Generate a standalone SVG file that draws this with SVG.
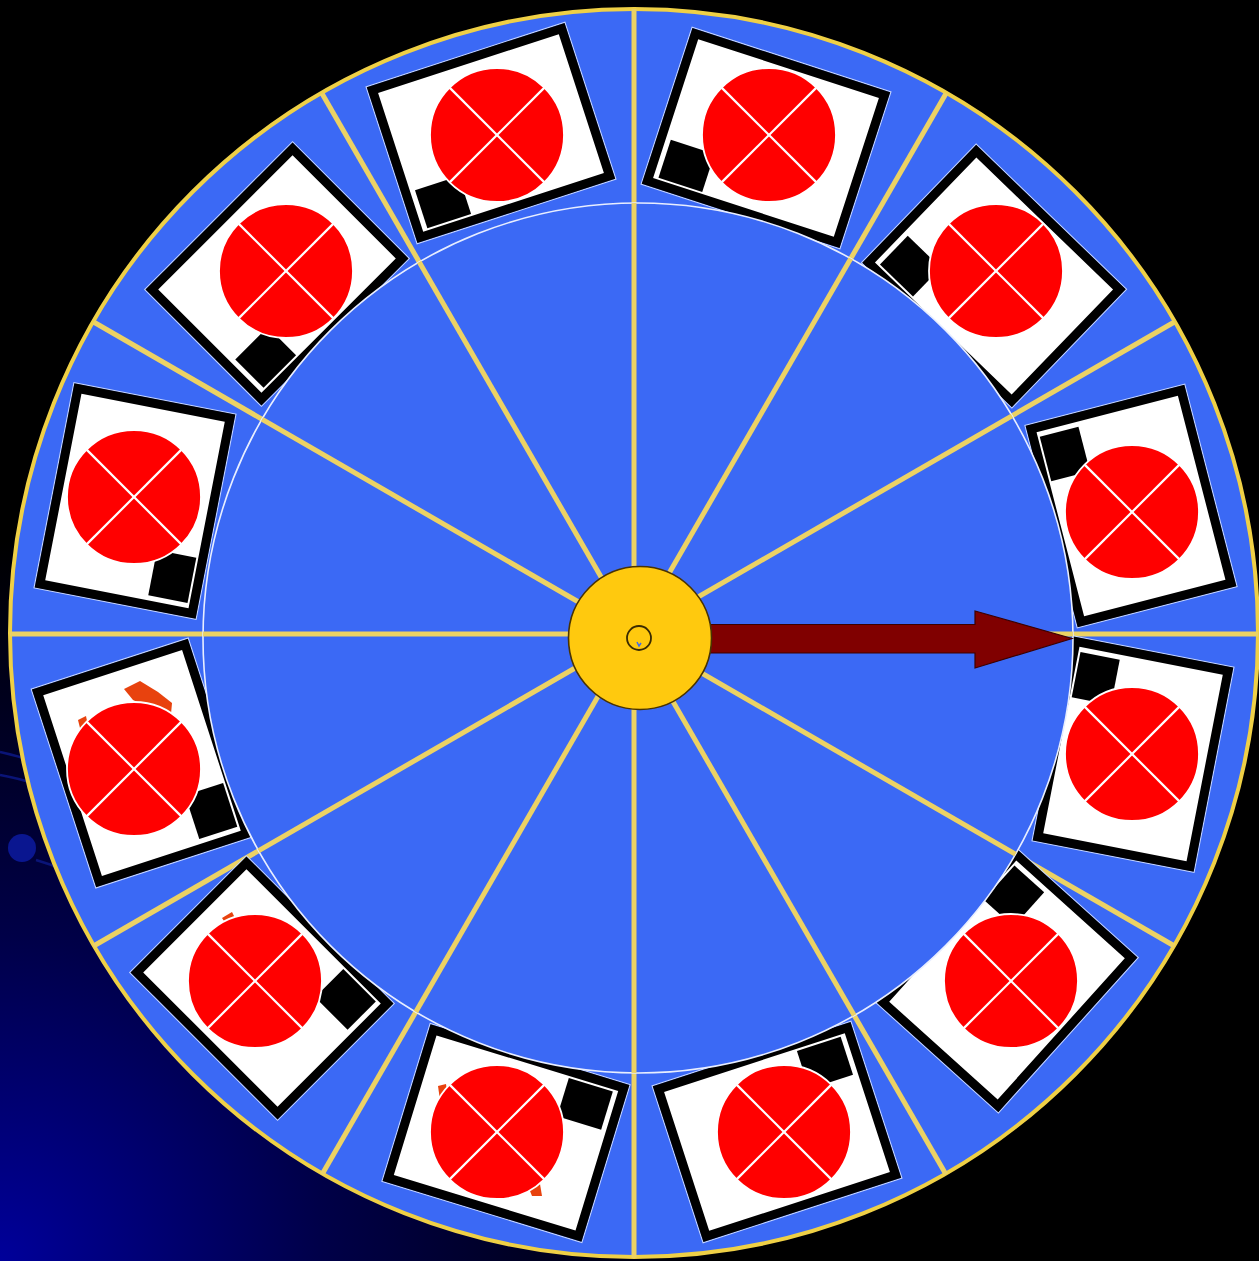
<svg xmlns="http://www.w3.org/2000/svg" xmlns:xlink="http://www.w3.org/1999/xlink" width="1259" height="1261" viewBox="0 0 1259 1261">
<defs>
<radialGradient id="bg" cx="0" cy="1261" r="720" gradientUnits="userSpaceOnUse">
<stop offset="0" stop-color="#00009a"/>
<stop offset="0.45" stop-color="#000048"/>
<stop offset="1" stop-color="#000000"/>
</radialGradient>
<clipPath id="innerClip"><circle cx="638" cy="638" r="435"/></clipPath>
<g id="card">
<rect x="-104.5" y="-82.5" width="209" height="165" fill="none" stroke="#c4d4ff" stroke-width="1.2"/>
<rect x="-99.5" y="-77.5" width="199" height="155" fill="#ffffff" stroke="#000000" stroke-width="9"/>
<rect x="-90" y="31" width="46" height="40" fill="#000000"/>
</g>
<g id="token">
<circle cx="0" cy="0" r="67" fill="#ff0000" stroke="#ffffff" stroke-width="1.8"/>
<line x1="-47.4" y1="-47.4" x2="47.4" y2="47.4" stroke="#ffffff" stroke-width="2.2"/>
<line x1="47.4" y1="-47.4" x2="-47.4" y2="47.4" stroke="#ffffff" stroke-width="2.2"/>
</g>
<g id="spokeSet" stroke="#ecd264" stroke-width="5" fill="none">
<line x1="634" y1="634" x2="634" y2="9"/>
<line x1="634" y1="634" x2="946" y2="93.6"/>
<line x1="634" y1="634" x2="1174.4" y2="322"/>
<line x1="634" y1="634" x2="1258" y2="634"/>
<line x1="634" y1="634" x2="1174.4" y2="946"/>
<line x1="634" y1="634" x2="946" y2="1174.4"/>
<line x1="634" y1="634" x2="634" y2="1258"/>
<line x1="634" y1="634" x2="322" y2="1174.4"/>
<line x1="634" y1="634" x2="93.6" y2="946"/>
<line x1="634" y1="634" x2="10" y2="634"/>
<line x1="634" y1="634" x2="93.6" y2="322"/>
<line x1="634" y1="634" x2="322" y2="93.6"/>
</g>
</defs>
<style>
.orange { fill: #e8420e; }
</style>

<rect x="0" y="0" width="1259" height="1261" fill="#000000"/>
<rect x="0" y="0" width="1259" height="1261" fill="url(#bg)"/>
<g id="bg-deco" fill="none" stroke="#0a1478" stroke-width="2.5">
<path d="M0,752 Q30,758 60,774"/>
<path d="M0,775 Q40,782 70,800"/>
<path d="M36,860 Q50,864 64,870"/>
</g>
<circle cx="22" cy="848" r="14" fill="#0a1690"/>

<g id="wheel-rim">
<circle cx="634" cy="633" r="624" fill="#3b69f5" stroke="#efd046" stroke-width="4"/>
</g>

<g id="connectors">
<use href="#spokeSet"/>
</g>

<g id="card-1"><use href="#card" transform="translate(491,133) rotate(-18)"/></g>
<g id="card-2"><use href="#card" transform="translate(766,138) rotate(18)"/></g>
<g id="card-3"><use href="#card" transform="translate(994,276) rotate(44)"/></g>
<g id="card-4"><use href="#card" transform="translate(1131,506) rotate(75.5)"/></g>
<g id="card-5"><use href="#card" transform="translate(1133,754) rotate(101)"/></g>
<g id="card-6"><use href="#card" transform="translate(1007,980) rotate(132)"/></g>
<g id="card-7"><use href="#card" transform="translate(777,1132) rotate(162)"/></g>
<g id="card-8"><use href="#card" transform="translate(506,1133) rotate(197)"/></g>
<g id="card-9"><use href="#card" transform="translate(262,988) rotate(225)"/></g>
<g id="card-10"><use href="#card" transform="translate(142,763) rotate(252)"/></g>
<g id="card-11"><use href="#card" transform="translate(135,501) rotate(281)"/></g>
<g id="card-12"><use href="#card" transform="translate(277,274) rotate(315)"/></g>

<g id="card-marks">
<path class="orange" d="M124,689 L140,681 L158,692 L172,703 L171,714 L152,709 L133,700 Z"/>
<path class="orange" d="M78,720 L86,716 L88,726 L80,728 Z"/>
<path class="orange" d="M222,918 L232,912 L236,920 L226,924 Z"/>
<path class="orange" d="M438,1086 L446,1084 L448,1098 L440,1100 Z"/>
<path class="orange" d="M528,1186 L540,1184 L542,1196 L532,1196 Z"/>
</g>

<g id="inner-disc">
<circle cx="638" cy="638" r="435" fill="#3b69f5" stroke="#e8eeff" stroke-width="1.6"/>
</g>

<g id="connectors-inner" clip-path="url(#innerClip)">
<use href="#spokeSet"/>
</g>

<g id="pointer">
<polygon points="700,624.5 975,624.5 975,611 1072,638.5 975,668 975,653 700,653" fill="#800000" stroke="#3c0000" stroke-width="1.2" stroke-linejoin="miter"/>
</g>

<g id="hub">
<circle cx="640" cy="638" r="71.5" fill="#ffc90e" stroke="#4a3300" stroke-width="1.6"/>
<circle cx="639" cy="638" r="12" fill="#ffc90e" stroke="#3a2a00" stroke-width="1.8"/>
<path d="M637,642 l2,4 l2,-3" fill="none" stroke="#3b69f5" stroke-width="1.5"/>
</g>

<g id="token-1"><use href="#token" transform="translate(497,135)"/></g>
<g id="token-2"><use href="#token" transform="translate(769,135)"/></g>
<g id="token-3"><use href="#token" transform="translate(996,271)"/></g>
<g id="token-4"><use href="#token" transform="translate(1132,512)"/></g>
<g id="token-5"><use href="#token" transform="translate(1132,754)"/></g>
<g id="token-6"><use href="#token" transform="translate(1011,981)"/></g>
<g id="token-7"><use href="#token" transform="translate(784,1132)"/></g>
<g id="token-8"><use href="#token" transform="translate(497,1132)"/></g>
<g id="token-9"><use href="#token" transform="translate(255,981)"/></g>
<g id="token-10"><use href="#token" transform="translate(134,769)"/></g>
<g id="token-11"><use href="#token" transform="translate(134,497)"/></g>
<g id="token-12"><use href="#token" transform="translate(286,271)"/></g>
</svg>
